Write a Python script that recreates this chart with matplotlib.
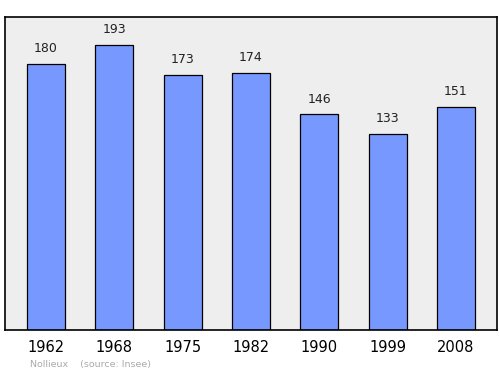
import matplotlib
matplotlib.use("Agg")
import matplotlib.pyplot as plt

years = ["1962", "1968", "1975", "1982", "1990", "1999", "2008"]
population = [180, 193, 173, 174, 146, 133, 151]

fig = plt.figure(figsize=(5, 3.74), dpi=100)
ax = fig.add_axes([5/500, 1 - 330/374, 492/500, 313/374])
ax.set_facecolor("#eeeeee")
x = list(range(len(years)))
ax.bar(x, population, width=0.56, color="#7799ff", edgecolor="black", linewidth=0.9, zorder=2)
for xi, v in zip(x, population):
    ax.text(xi, v + 6, str(v), ha="center", va="bottom", fontsize=9, color="#222222")
ax.set_xlim(-0.6, 6.6)
ax.set_ylim(0, 212)
ax.set_yticks([])
ax.set_xticks(x)
ax.set_xticklabels(years, fontsize=10.5)
ax.tick_params(axis="x", length=0, pad=7)
for s in ax.spines.values():
    s.set_linewidth(1.2)
fig.text(30/500, 1 - 365/374, "Nollieux    (source: Insee)", fontsize=6.8, color="#aaaaaa", va="center")
fig.savefig("out.png", dpi=100)
